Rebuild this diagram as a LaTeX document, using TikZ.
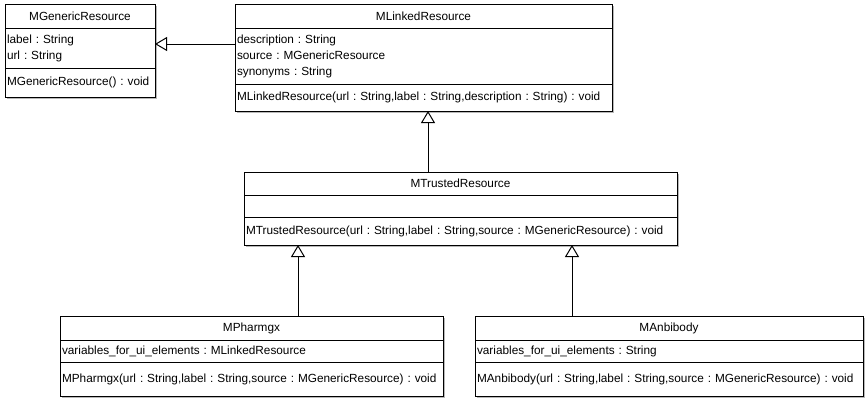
\documentclass[tikz,border=0pt]{standalone}
\usepackage{fontspec}
\setmainfont{Liberation Sans}
\usetikzlibrary{positioning, arrows.meta, shadows}

\begin{document}
\begin{tikzpicture}[
        x=1pt, y=-1pt, % pixel grid, y downwards
        every node/.style={font=\fontsize{11.8}{16}\selectfont\frenchspacing},
        cname/.style={rectangle, draw=black, fill=white, line width=1pt, outer sep=0pt, inner sep=0pt,
            drop shadow={shadow xshift=2pt, shadow yshift=-2pt, fill=black!35, opacity=0.8}},
        cpart/.style={cname, inner xsep=2pt, align=left},
        inherit/.style={-{Triangle[open, width=14pt, length=12pt]}, line width=1pt}
    ]
    \useasboundingbox (0,0) rectangle (866,400);

    % MGenericResource
    \node[cname, anchor=north west, minimum width=150pt, minimum height=24pt] (gen) at (5,4) {MGenericResource};
    \node[cpart, below=0pt of gen, text width=146pt, minimum height=40pt] (gen-a) {label : String\\url : String};
    \node[cpart, below=0pt of gen-a, text width=146pt, minimum height=29pt] (gen-m) {MGenericResource() : void};

    % MLinkedResource
    \node[cname, anchor=north west, minimum width=377pt, minimum height=24pt] (linked) at (235,4) {MLinkedResource};
    \node[cpart, below=0pt of linked, text width=373pt, minimum height=56pt] (linked-a) {description : String\\source : MGenericResource\\synonyms : String};
    \node[cpart, below=0pt of linked-a, text width=373pt, minimum height=27pt] (linked-m) {MLinkedResource(url : String,label : String,description : String) : void};

    % MTrustedResource
    \node[cname, anchor=north west, minimum width=433pt, minimum height=23pt] (trusted) at (244,172) {MTrustedResource};
    \node[cpart, below=0pt of trusted, text width=429pt, minimum height=22pt] (trusted-a) {};
    \node[cpart, below=0pt of trusted-a, text width=429pt, minimum height=28pt] (trusted-m) {MTrustedResource(url : String,label : String,source : MGenericResource) : void};

    % MPharmgx
    \node[cname, anchor=north west, minimum width=383pt, minimum height=24pt] (pharm) at (60,316) {MPharmgx};
    \node[cpart, below=0pt of pharm, text width=379pt, minimum height=22pt] (pharm-a) {variables\_for\_ui\_elements : MLinkedResource};
    \node[cpart, below=0pt of pharm-a, text width=379pt, minimum height=34pt] (pharm-m) {MPharmgx(url : String,label : String,source : MGenericResource) : void};

    % MAnbibody
    \node[cname, anchor=north west, minimum width=388pt, minimum height=24pt] (anti) at (475,316) {MAnbibody};
    \node[cpart, below=0pt of anti, text width=384pt, minimum height=22pt] (anti-a) {variables\_for\_ui\_elements : String};
    \node[cpart, below=0pt of anti-a, text width=384pt, minimum height=34pt] (anti-m) {MAnbibody(url : String,label : String,source : MGenericResource) : void};

    % generalisations
    \coordinate (gen-in) at ([yshift=12pt]linked-a.west);
    \coordinate (linked-in) at ([xshift=4.5pt]linked-m.south);
    \coordinate (pharm-in) at ([xshift=54pt]trusted-m.south west);
    \coordinate (anti-in) at ([xshift=328pt]trusted-m.south west);
    \draw[inherit] (gen-in) -- (gen-in -| gen-a.east);
    \draw[inherit] (linked-in |- trusted.north) -- (linked-in);
    \draw[inherit] (pharm-in |- pharm.north) -- (pharm-in);
    \draw[inherit] (anti-in |- anti.north) -- (anti-in);
\end{tikzpicture}
\end{document}
